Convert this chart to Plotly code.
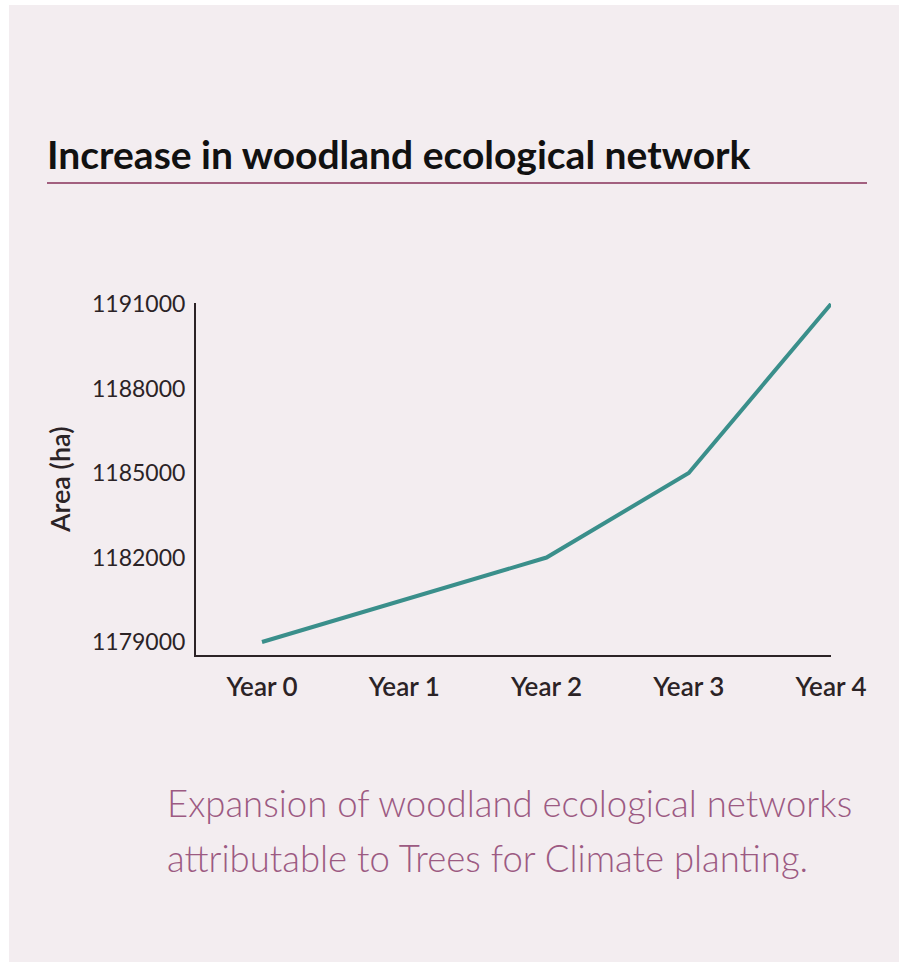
import plotly.graph_objects as go

# Woodland ecological network area by year
years = ["Year 0", "Year 1", "Year 2", "Year 3", "Year 4"]
area_ha = [1179000, 1180500, 1182000, 1185000, 1191000]
y_ticks = [1179000, 1182000, 1185000, 1188000, 1191000]

W, H = 900, 962
PANEL = "#f3edf0"
PLUM = "#9c5a82"
INK = "#2b2326"
TEAL = "#3a8f8b"
FONT = "Lato"


def px(x):
    return x / W


def py(y):
    return 1 - y / H


fig = go.Figure(
    go.Scatter(
        x=list(range(len(years))),
        y=area_ha,
        mode="lines",
        line=dict(color=TEAL, width=4),
        cliponaxis=False,
        hoverinfo="skip",
    )
)

caption_lines = [
    "Expansion of woodland ecological networks",
    "attributable to Trees for Climate planting.",
]

annotations = [
    dict(text="Increase in woodland ecological network",
         xref="paper", yref="paper", x=px(45), y=py(154),
         xanchor="left", yanchor="middle", showarrow=False,
         font=dict(family=FONT, size=39, color="#111111", weight=700)),
    dict(text="Area (ha)", textangle=-90,
         xref="paper", yref="paper", x=px(59), y=py(480),
         xanchor="center", yanchor="middle", showarrow=False,
         font=dict(family=FONT, size=27, color=INK, weight=600)),
]
for i, line in enumerate(caption_lines):
    annotations.append(
        dict(text=line, xref="paper", yref="paper",
             x=px(165), y=py(803 + 55 * i),
             xanchor="left", yanchor="middle", showarrow=False,
             font=dict(family=FONT, size=36.5, color=PLUM, weight=300))
    )

fig.update_layout(
    width=W,
    height=H,
    autosize=False,
    margin=dict(l=0, r=0, t=0, b=0, pad=0),
    paper_bgcolor="white",
    plot_bgcolor="rgba(0,0,0,0)",
    showlegend=False,
    font=dict(family=FONT, color=INK),
    xaxis=dict(
        domain=[px(196), px(831)],
        range=[-0.464, 4],
        automargin=False,
        tickmode="array",
        tickvals=list(range(len(years))),
        ticktext=years,
        showgrid=False,
        zeroline=False,
        showline=True,
        linecolor=INK,
        linewidth=2,
        ticks="",
        ticklabelstandoff=8,
        tickfont=dict(family=FONT, size=26, color=INK, weight=600),
    ),
    yaxis=dict(
        domain=[py(655), py(303)],
        range=[1178540, 1191035],
        automargin=False,
        tickmode="array",
        tickvals=y_ticks,
        ticktext=[str(v) for v in y_ticks],
        showgrid=False,
        zeroline=False,
        showline=True,
        linecolor=INK,
        linewidth=2,
        ticks="",
        ticklabelstandoff=4,
        tickfont=dict(family=FONT, size=23, color=INK),
    ),
    shapes=[
        dict(type="rect", xref="paper", yref="paper", layer="below",
             x0=px(9), x1=px(899), y0=0, y1=py(5),
             fillcolor=PANEL, line=dict(width=0)),
        dict(type="line", xref="paper", yref="paper",
             x0=px(47), x1=px(867), y0=py(183), y1=py(183),
             line=dict(color="#a2607f", width=2)),
    ],
    annotations=annotations,
)

fig.write_html("out.html")
